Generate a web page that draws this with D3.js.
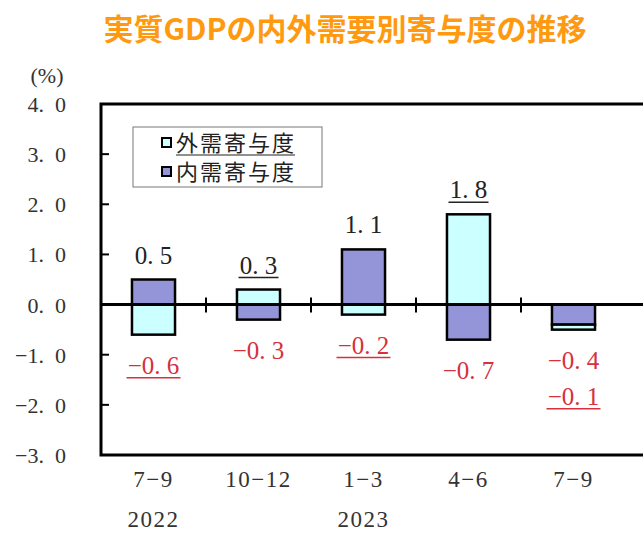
<!DOCTYPE html>
<html>
<head>
<meta charset="utf-8">
<script src="https://cdn.jsdelivr.net/npm/d3@7"></script>
<style>
  body { margin: 0; background: #fff; }
  svg { display: block; }
  .num { font-family: "Liberation Serif", "DejaVu Serif", serif; }
  .jp { font-family: "Noto Sans CJK JP", sans-serif; }
</style>
</head>
<body>
<div id="chart"></div>
<script>
// data
var quarters = ["7\u22129", "10\u221212", "1\u22123", "4\u22126", "7\u22129"];
var years = ["2022", "", "2023", "", ""];
var domestic = [0.5, -0.3, 1.1, -0.7, -0.4];   // 内需寄与度
var external = [-0.6, 0.3, -0.2, 1.8, -0.1];   // 外需寄与度
var yTicks = [4, 3, 2, 1, 0, -1, -2, -3];

var seriesNames = ["内需寄与度", "外需寄与度"];
var legendOrder = ["外需寄与度", "内需寄与度"];
var colors = { "内需寄与度": "#9494d8", "外需寄与度": "#ccffff" };
var underlined = { "外需寄与度": true, "内需寄与度": false };
var red = "#d6303c";

var width = 643, height = 533;

var svg = d3.select("#chart").append("svg")
    .attr("width", width)
    .attr("height", height);

var rows = quarters.map(function (q, i) {
  return { i: i, "内需寄与度": domestic[i], "外需寄与度": external[i] };
});

var x = d3.scaleBand()
    .domain(d3.range(quarters.length))
    .range([101, 626])
    .paddingInner(0.59)
    .paddingOuter(0.295);

var y = d3.scaleLinear()
    .domain([-3, 4])
    .range([455, 104]);

// full-width style period: "0. 5"
var fmt = function (v, sp) {
  return d3.format(".1f")(v).replace("-", "\u2212").replace(".", "." + sp);
};

// title
svg.append("text")
    .attr("class", "jp")
    .attr("x", 345)
    .attr("y", 40)
    .attr("text-anchor", "middle")
    .style("font-size", "30px")
    .style("font-weight", "bold")
    .style("fill", "#ff9a10")
    .text("実質GDPの内外需要別寄与度の推移");

// unit
svg.append("text")
    .attr("class", "num")
    .attr("x", 47)
    .attr("y", 83)
    .attr("text-anchor", "middle")
    .style("font-size", "22px")
    .style("fill", "#333")
    .text("(%)");

// y tick labels
svg.selectAll(".ylab")
    .data(yTicks)
    .enter().append("text")
    .attr("class", "num ylab")
    .attr("x", 66)
    .attr("y", function (d) { return y(d) + 8; })
    .attr("text-anchor", "end")
    .style("font-size", "22px")
    .style("fill", "#333")
    .text(function (d) { return fmt(d, "\u2002"); });

// inner ticks on the left axis
svg.selectAll(".ytick")
    .data(yTicks.filter(function (d) { return d !== 0; }))
    .enter().append("line")
    .attr("x1", 101)
    .attr("x2", 109)
    .attr("y1", function (d) { return y(d); })
    .attr("y2", function (d) { return y(d); })
    .style("stroke", "#000")
    .style("stroke-width", 2);

// stacked bars
var stack = d3.stack()
    .keys(seriesNames)
    .offset(d3.stackOffsetDiverging);
var stacked = stack(rows);

var groups = svg.selectAll(".series")
    .data(stacked)
    .enter().append("g")
    .style("fill", function (d) { return colors[d.key]; });

groups.selectAll("rect")
    .data(function (d) { return d; })
    .enter().append("rect")
    .attr("x", function (d) { return x(d.data.i); })
    .attr("width", x.bandwidth())
    .attr("y", function (d) { return y(Math.max(d[0], d[1])); })
    .attr("height", function (d) { return Math.abs(y(d[0]) - y(d[1])); })
    .style("stroke", "#000")
    .style("stroke-width", 2.5);

// frame
svg.append("path")
    .attr("d", "M" + (width + 5) + "," + y(4) + "H" + x.range()[0] + "V" + y(-3) + "H" + (width + 5))
    .style("fill", "none")
    .style("stroke", "#000")
    .style("stroke-width", 3);

// zero line
svg.append("line")
    .attr("x1", x.range()[0])
    .attr("x2", width)
    .attr("y1", y(0))
    .attr("y2", y(0))
    .style("stroke", "#000")
    .style("stroke-width", 3);

// separators on zero line
svg.selectAll(".sep")
    .data(d3.range(1, quarters.length))
    .enter().append("line")
    .attr("x1", function (i) { return x.range()[0] + i * x.step(); })
    .attr("x2", function (i) { return x.range()[0] + i * x.step(); })
    .attr("y1", y(0) - 7)
    .attr("y2", y(0) + 8)
    .style("stroke", "#000")
    .style("stroke-width", 2);

// value labels
var labels = [];
rows.forEach(function (r) {
  var pos = 0, neg = 0, posTop = 0, negBottom = 0;
  seriesNames.forEach(function (k) {
    if (r[k] > 0) posTop += r[k]; else negBottom += r[k];
  });
  seriesNames.forEach(function (k) {
    var v = r[k];
    if (v > 0) {
      labels.push({ i: r.i, v: v, key: k, y: y(posTop) - 16 - 36 * pos });
      pos++;
    } else {
      labels.push({ i: r.i, v: v, key: k, y: y(negBottom) + 39 + 36 * neg });
      neg++;
    }
  });
});

var lab = svg.selectAll(".vlab")
    .data(labels)
    .enter().append("g");

lab.append("text")
    .attr("class", "num")
    .attr("x", function (d) { return x(d.i) + x.bandwidth() / 2; })
    .attr("y", function (d) { return d.y; })
    .attr("text-anchor", "middle")
    .style("font-size", "25px")
    .style("fill", function (d) { return d.v < 0 ? red : "#222"; })
    .text(function (d) { return fmt(d.v, " "); });

lab.filter(function (d) { return underlined[d.key]; })
    .append("line")
    .attr("x1", function (d) { return x(d.i) + x.bandwidth() / 2 - (d.v < 0 ? 27 : 20); })
    .attr("x2", function (d) { return x(d.i) + x.bandwidth() / 2 + (d.v < 0 ? 27 : 20); })
    .attr("y1", function (d) { return d.y + 4; })
    .attr("y2", function (d) { return d.y + 4; })
    .style("stroke", function (d) { return d.v < 0 ? red : "#222"; })
    .style("stroke-width", 1.5);

// x labels
svg.selectAll(".xlab")
    .data(quarters)
    .enter().append("text")
    .attr("class", "num")
    .attr("x", function (d, i) { return x(i) + x.bandwidth() / 2; })
    .attr("y", 487)
    .attr("text-anchor", "middle")
    .style("font-size", "23px")
    .style("letter-spacing", "1.5px")
    .style("fill", "#333")
    .text(function (d) { return d; });

svg.selectAll(".yrlab")
    .data(years)
    .enter().append("text")
    .attr("class", "num")
    .attr("x", function (d, i) { return x(i) + x.bandwidth() / 2; })
    .attr("y", 527)
    .attr("text-anchor", "middle")
    .style("font-size", "23px")
    .style("letter-spacing", "1.5px")
    .style("fill", "#333")
    .text(function (d) { return d; });

// legend
var legend = svg.append("g");

legend.append("rect")
    .attr("x", 133)
    .attr("y", 127)
    .attr("width", 189)
    .attr("height", 60)
    .style("fill", "#fff")
    .style("stroke", "#777")
    .style("stroke-width", 1);

var item = legend.selectAll(".item")
    .data(legendOrder)
    .enter().append("g")
    .attr("transform", function (d, i) { return "translate(0," + (i * 29) + ")"; });

item.append("rect")
    .attr("x", 162)
    .attr("y", 138)
    .attr("width", 9)
    .attr("height", 9)
    .style("fill", function (d) { return colors[d]; })
    .style("stroke", "#000")
    .style("stroke-width", 2);

item.append("text")
    .attr("class", "jp")
    .attr("x", 176)
    .attr("y", 151)
    .style("font-size", "22px")
    .style("letter-spacing", "2px")
    .style("fill", "#222")
    .text(function (d) { return d; });

item.filter(function (d) { return underlined[d]; })
    .append("line")
    .attr("x1", 176)
    .attr("x2", 295)
    .attr("y1", 155)
    .attr("y2", 155)
    .style("stroke", "#222")
    .style("stroke-width", 1.2);
</script>
</body>
</html>
